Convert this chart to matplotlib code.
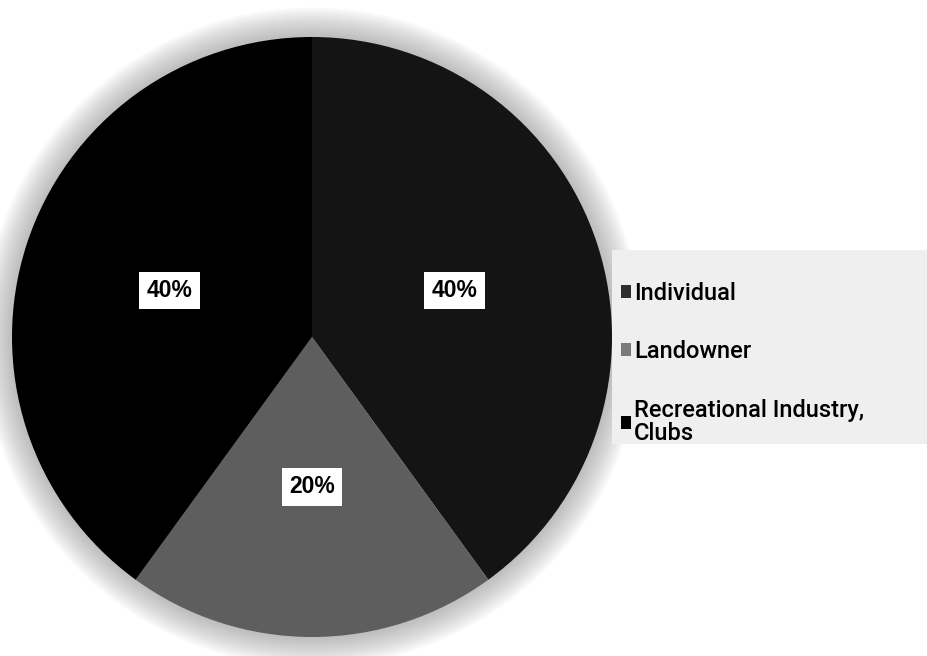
import matplotlib
matplotlib.use("Agg")
import matplotlib.pyplot as plt
from matplotlib.patches import Circle, Rectangle, Patch

# data
categories = ["Individual", "Landowner", "Recreational Industry,\nClubs"]
shares = [40, 20, 40]
colors = ["#141414", "#5e5e5e", "#000000"]

fig = plt.figure(figsize=(9.28, 6.56), dpi=100)
fig.patch.set_facecolor("white")

# pie axes: centre at (312, 337) px, radius 300 px
ax = fig.add_axes([(312 - 330) / 928, (656 - 337 - 330) / 656, 660 / 928, 660 / 656])

# soft outer shadow
for k in range(14):
    ax.add_patch(Circle((0, 0), 1.0 + 0.007 * (k + 1), facecolor="#808080",
                        edgecolor="none", alpha=0.045, zorder=0))

wedges, texts, autotexts = ax.pie(
    shares, colors=colors, startangle=90, counterclock=False, radius=1.0,
    autopct="%1.0f%%", pctdistance=0.5,
    wedgeprops=dict(linewidth=0, edgecolor="none"),
    textprops=dict(fontsize=16.5, fontweight="bold", color="black",
                   family="Liberation Sans"))
for w in wedges:
    w.set_zorder(2)
for t in autotexts:
    t.set_zorder(3)
    t.set_bbox(dict(boxstyle="square,pad=0.32", facecolor="white", edgecolor="none"))

ax.set_xlim(-1.1, 1.1)
ax.set_ylim(-1.1, 1.1)
ax.set_aspect("equal")
ax.axis("off")

# legend background panel
fig.patches.append(Rectangle((612 / 928, (656 - 444) / 656), 316 / 928, 194 / 656,
                             transform=fig.transFigure, facecolor="#efefef",
                             edgecolor="none", zorder=0))

handles = [Patch(facecolor=c, edgecolor="none") for c in ["#2e2e2e", "#7a7a7a", "#000000"]]
leg = fig.legend(handles, categories, loc="upper left",
                 bbox_to_anchor=(609 / 928, (656 - 270) / 656),
                 frameon=False, labelspacing=1.5,
                 handlelength=0.45, handleheight=0.45, handletextpad=0.12,
                 borderpad=0, prop=dict(family="Roboto", size=17, weight="medium"))
for t in leg.get_texts():
    t.set_linespacing(1.0)

fig.savefig("out.png", dpi=100, facecolor="white")
